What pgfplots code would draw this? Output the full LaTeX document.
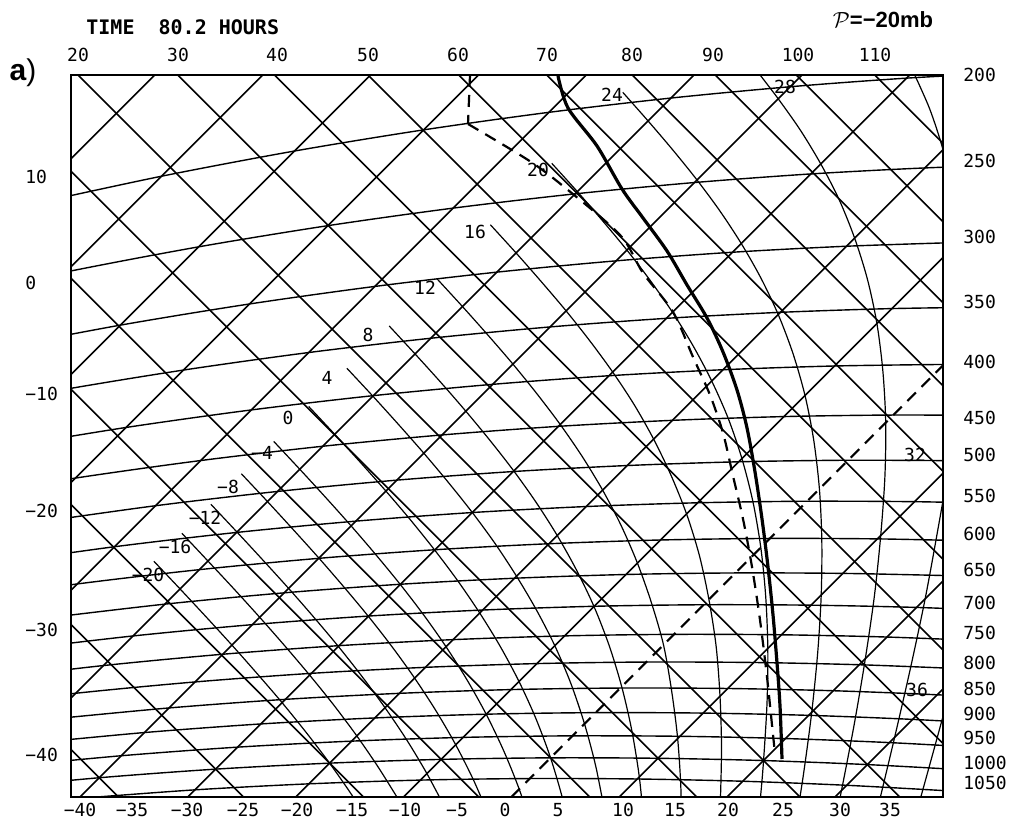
\documentclass[border=0pt]{standalone}
\usepackage{pgfplots}
\pgfplotsset{compat=1.18}
\usepackage{fontspec}
\setmainfont{DejaVu Sans}
\newfontfamily\mono{DejaVu Sans Mono}
\newfontfamily\lsans{Liberation Sans}
\begin{document}
\begin{tikzpicture}
\begin{axis}[
  name=main,
  x=0.5pt, y=0.5pt, scale only axis,
  xmin=0, xmax=872, ymin=0, ymax=722,
  axis line style={line width=1.3pt},
  clip mode=individual,
  major tick length=0pt,
  xtick={9,61,116,172,226,281,334,386,434,487,552,604,657,712,769,819},
  xticklabels={−40,−35,−30,−25,−20,−15,−10,−5,0,5,10,15,20,25,30,35},
  ytick={42,167,286,403,514,620},
  yticklabels={−40,−30,−20,−10,0,10},
  xticklabel style={anchor=north, inner sep=0pt, yshift=-3pt, font=\mono\fontsize{9}{10}\selectfont},
  yticklabel style={anchor=west, inner sep=0pt, xshift=-23pt, font=\mono\fontsize{9}{10}\selectfont},
  iso/.style={black, line width=0.8pt},
  bar/.style={black, line width=0.7pt, smooth},
  moist/.style={black, line width=0.6pt, smooth},
]
% isotherms (rising 45 degree lines), -100 ... 40 C
\addplot[iso] coordinates {(-638.2,0) (83.8,722)};
\addplot[iso] coordinates {(-530.3,0) (191.7,722)};
\addplot[iso] coordinates {(-422.5,0) (299.5,722)};
\addplot[iso] coordinates {(-314.6,0) (407.4,722)};
\addplot[iso] coordinates {(-206.8,0) (515.2,722)};
\addplot[iso] coordinates {(-98.9,0) (623.1,722)};
\addplot[iso] coordinates {(9.0,0) (731.0,722)};
\addplot[iso] coordinates {(116.8,0) (838.8,722)};
\addplot[iso] coordinates {(224.7,0) (946.7,722)};
\addplot[iso] coordinates {(332.5,0) (1054.5,722)};
\addplot[iso] coordinates {(548.3,0) (1270.3,722)};
\addplot[iso] coordinates {(656.1,0) (1378.1,722)};
\addplot[iso] coordinates {(764.0,0) (1486.0,722)};
\addplot[iso] coordinates {(871.8,0) (1593.8,722)};
% dry adiabats (falling 45 degree lines), -40 ... 110 C
\addplot[iso] coordinates {(-674.5,722) (47.5,0)};
\addplot[iso] coordinates {(-549.5,722) (172.5,0)};
\addplot[iso] coordinates {(-429.6,722) (292.4,0)};
\addplot[iso] coordinates {(-314.3,722) (407.7,0)};
\addplot[iso] coordinates {(-203.3,722) (518.7,0)};
\addplot[iso] coordinates {(-96.3,722) (625.7,0)};
\addplot[iso] coordinates {(7.0,722) (729.0,0)};
\addplot[iso] coordinates {(106.8,722) (828.8,0)};
\addplot[iso] coordinates {(203.4,722) (925.4,0)};
\addplot[iso] coordinates {(296.9,722) (1018.9,0)};
\addplot[iso] coordinates {(387.7,722) (1109.7,0)};
\addplot[iso] coordinates {(475.7,722) (1197.7,0)};
\addplot[iso] coordinates {(561.2,722) (1283.2,0)};
\addplot[iso] coordinates {(644.2,722) (1366.2,0)};
\addplot[iso] coordinates {(725.1,722) (1447.1,0)};
\addplot[iso] coordinates {(803.8,722) (1525.8,0)};
% isobars 200 ... 1050 mb
\addplot[bar] coordinates {(-47.1,591.1) (90.45,620.75) (223.45,645.95) (352.5,667.1) (477.85,684.65) (600.05,698.95) (719.25,710.25) (835.65,718.85) (949.55,724.85)};
\addplot[bar] coordinates {(-142.9,495.3) (-5.35,524.95) (127.65,550.15) (256.7,571.3) (382.05,588.85) (504.25,603.15) (623.45,614.45) (739.85,623.05) (853.75,629.05) (965.3,632.8)};
\addplot[bar] coordinates {(-83.65,446.65) (49.35,471.85) (178.4,493.0) (303.75,510.55) (425.95,524.85) (545.15,536.15) (661.55,544.75) (775.45,550.75) (887.0,554.5)};
\addplot[bar] coordinates {(-149.75,380.55) (-16.75,405.75) (112.3,426.9) (237.65,444.45) (359.85,458.75) (479.05,470.05) (595.45,478.65) (709.35,484.65) (820.9,488.4) (930.35,489.95)};
\addplot[bar] coordinates {(-74.15,348.35) (54.9,369.5) (180.25,387.05) (302.45,401.35) (421.65,412.65) (538.05,421.25) (651.95,427.25) (763.5,431.0) (872.95,432.55)};
\addplot[bar] coordinates {(-124.75,297.75) (4.3,318.9) (129.65,336.45) (251.85,350.75) (371.05,362.05) (487.45,370.65) (601.35,376.65) (712.9,380.4) (822.35,381.95) (929.8,381.5)};
\addplot[bar] coordinates {(-40.9,273.7) (84.45,291.25) (206.65,305.55) (325.85,316.85) (442.25,325.45) (556.15,331.45) (667.7,335.2) (777.15,336.75) (884.6,336.3)};
\addplot[bar] coordinates {(-81.9,232.7) (43.45,250.25) (165.65,264.55) (284.85,275.85) (401.25,284.45) (515.15,290.45) (626.7,294.2) (736.15,295.75) (843.6,295.3) (949.15,293.05)};
\addplot[bar] coordinates {(-119.1,195.5) (6.25,213.05) (128.45,227.35) (247.65,238.65) (364.05,247.25) (477.95,253.25) (589.5,257.0) (698.95,258.55) (806.4,258.1) (911.95,255.85)};
\addplot[bar] coordinates {(-28.25,178.55) (93.95,192.85) (213.15,204.15) (329.55,212.75) (443.45,218.75) (555.0,222.5) (664.45,224.05) (771.9,223.6) (877.45,221.35)};
\addplot[bar] coordinates {(-60.05,146.75) (62.15,161.05) (181.35,172.35) (297.75,180.95) (411.65,186.95) (523.2,190.7) (632.65,192.25) (740.1,191.8) (845.65,189.55) (949.5,185.5)};
\addplot[bar] coordinates {(-89.65,117.15) (32.55,131.45) (151.75,142.75) (268.15,151.35) (382.05,157.35) (493.6,161.1) (603.05,162.65) (710.5,162.2) (816.05,159.95) (919.9,155.9)};
\addplot[bar] coordinates {(-117.35,89.45) (4.85,103.75) (124.05,115.05) (240.45,123.65) (354.35,129.65) (465.9,133.4) (575.35,134.95) (682.8,134.5) (788.35,132.25) (892.2,128.2)};
\addplot[bar] coordinates {(-21.15,77.75) (98.05,89.05) (214.45,97.65) (328.35,103.65) (439.9,107.4) (549.35,108.95) (656.8,108.5) (762.35,106.25) (866.2,102.2) (968.4,96.6)};
\addplot[bar] coordinates {(-45.75,53.15) (73.45,64.45) (189.85,73.05) (303.75,79.05) (415.3,82.8) (524.75,84.35) (632.2,83.9) (737.75,81.65) (841.6,77.6) (943.8,72.0)};
\addplot[bar] coordinates {(-68.95,29.95) (50.25,41.25) (166.65,49.85) (280.55,55.85) (392.1,59.6) (501.55,61.15) (609.0,60.7) (714.55,58.45) (818.4,54.4) (920.6,48.8)};
\addplot[bar] coordinates {(-90.95,7.95) (28.25,19.25) (144.65,27.85) (258.55,33.85) (370.1,37.6) (479.55,39.15) (587.0,38.7) (692.55,36.45) (796.4,32.4) (898.6,26.8)};
\addplot[bar] coordinates {(7.55,-1.45) (123.95,7.15) (237.85,13.15) (349.4,16.9) (458.85,18.45) (566.3,18.0) (671.85,15.75) (775.7,11.7) (877.9,6.1)};
% saturated adiabats, theta_w = -20 ... 36 C
\addplot[moist] coordinates {(301.7,-30.8) (280.75,2.15) (258.55,33.85) (235.2,64.5) (211.1,94.3) (186.2,123.3) (160.9,151.9) (135.1,180.1) (109.1,208.0) (82.9,235.7)};
\addplot[moist] coordinates {(328.4,-4.1) (307.7,29.1) (285.8,61.1) (262.7,92.0) (238.65,121.85) (213.9,151.0) (188.7,179.7) (163.0,208.0) (137.0,235.9) (110.9,263.7)};
\addplot[moist] coordinates {(374.6,-11.9) (355.9,23.4) (335.7,57.1) (314.0,89.3) (291.1,120.4) (267.35,150.55) (242.75,179.85) (217.6,208.6) (191.9,236.9) (166.0,264.9) (139.9,292.7)};
\addplot[moist] coordinates {(418.95,-21.45) (402.8,16.3) (384.7,52.2) (364.9,86.3) (343.6,118.9) (321.0,150.3) (297.4,180.6) (272.9,210.0) (247.9,238.9) (222.3,267.3) (196.5,295.4) (170.4,323.2)};
\addplot[moist] coordinates {(461.5,-32.8) (448.2,7.8) (432.7,46.2) (415.2,82.7) (395.9,117.3) (375.0,150.3) (352.7,182.0) (329.3,212.5) (305.0,242.1) (280.1,271.1) (254.6,299.6) (228.8,327.7) (202.75,355.55)};
\addplot[moist] coordinates {(501.7,-46.6) (491.8,-2.5) (479.55,39.15) (464.9,78.4) (448.0,115.5) (429.2,150.6) (408.7,184.0) (386.8,216.1) (363.7,246.9) (339.7,276.8) (314.9,305.9) (289.5,334.5) (263.75,362.65) (237.7,390.5)};
\addplot[moist] coordinates {(533.65,-14.65) (524.8,30.5) (513.5,73.1) (499.9,113.4) (483.8,151.3) (465.5,186.9) (445.5,220.8) (424.1,253.4) (401.3,284.5) (377.4,314.5) (352.8,343.8) (327.5,372.5) (301.9,400.8) (275.9,428.7)};
\addplot[moist] coordinates {(573.15,-29.05) (568.3,20.0) (560.8,66.5) (550.7,110.3) (538.1,151.6) (523.0,190.45) (505.5,226.9) (486.2,261.5) (465.2,294.5) (442.8,326.0) (419.2,356.3) (394.8,385.8) (369.7,414.7) (344.1,443.0) (318.2,471.0)};
\addplot[moist] coordinates {(610.5,-45.6) (609.9,7.7) (606.65,58.35) (600.6,106.3) (592.5,152.1) (580.5,194.0) (566.4,233.9) (550.1,271.5) (531.6,306.9) (511.2,340.5) (489.25,372.45) (466.0,403.1) (441.9,432.9) (416.9,461.9) (391.5,490.4) (365.7,518.5)};
\addplot[moist] coordinates {(649.3,-6.8) (650.5,48.3) (649.0,100.7) (645.1,150.8) (637.9,197.5) (628.3,241.8) (615.55,283.05) (600.1,321.5) (582.6,357.9) (563.1,392.4) (541.7,424.9) (518.9,456.0) (495.1,486.1) (470.3,515.3) (445.1,544.0) (419.4,572.2)};
\addplot[moist] coordinates {(686.8,-23.3) (689.6,1.08) (692.55,36.45) (696.0,93.8) (696.8,148.5) (694.7,200.4) (689.8,249.4) (681.9,295.4) (670.9,338.4) (657.2,378.6) (640.7,416.0) (622.0,451.3) (601.5,484.7) (579.3,516.4) (555.9,546.9) (531.4,576.4) (506.4,605.3) (480.8,633.6)};
\addplot[moist] coordinates {(722.4,-41.6) (732.4,22.3) (740.7,84.6) (746.7,144.5) (750.2,201.9) (750.8,256.5) (748.4,308.0) (742.8,356.3) (734.0,401.5) (722.0,443.4) (707.2,482.5) (689.8,519.1) (670.25,553.45) (648.9,586.0) (626.0,617.0) (601.9,646.9) (577.1,676.0) (551.8,704.6)};
\addplot[moist] coordinates {(756.4,-61.5) (770.45,6.45) (783.3,73.2) (794.3,138.2) (803.4,201.2) (809.7,261.4) (813.85,319.55) (814.7,374.3) (811.9,425.4) (805.9,473.4) (796.4,517.8) (783.6,558.9) (768.1,597.4) (749.8,633.0) (729.5,666.6) (707.2,698.2) (683.8,728.8)};
\addplot[moist] coordinates {(806.7,-11.2) (823.6,59.6) (839.6,129.5) (854.1,198.0) (866.25,264.05) (877.4,329.1) (885.0,390.7) (889.7,449.3) (890.8,504.3) (888.2,555.7) (881.9,603.3) (872.0,647.3) (858.7,688.0) (842.15,725.35)};
\addplot[moist] coordinates {(841.4,-30.4) (862.0,44.1) (882.3,118.3)};
% 0 C isotherm, dashed
\addplot[black, line width=1.1pt, dash pattern=on 6pt off 4pt] coordinates {(440.4,0) (872,431.6)};
% temperature sounding
\addplot[black, line width=1.6pt, smooth] coordinates {(487,721) (497,689) (526,651) (551,608) (572,579) (596,546) (616,512) (636,479) (652,445) (666,407) (676,369) (684,325) (691,278) (697,230) (702,182) (706,134) (709,91) (711,38)};
% dew point
\addplot[black, line width=1.1pt, dash pattern=on 6pt off 4pt] coordinates {(399,722) (397,673)};
\addplot[black, line width=1.1pt, dash pattern=on 6pt off 4pt, smooth] coordinates {(397,673) (457,637) (492,611) (549,562) (572,524) (602,485) (622,440) (639,402) (652,364) (662,321) (672,278) (681,230) (689,177) (696,120) (701,72) (704,43)};
% labels
\begin{scope}[every node/.style={font=\mono\fontsize{9}{10}\selectfont, inner sep=0pt}]
\node at (axis cs:77,222) {−20};
\node at (axis cs:104,250) {−16};
\node at (axis cs:134,279) {−12};
\node at (axis cs:157,310) {−8};
\node at (axis cs:191,344) {−4};
\node at (axis cs:217,379) {0};
\node at (axis cs:256,419) {4};
\node at (axis cs:297,462) {8};
\node at (axis cs:354,509) {12};
\node at (axis cs:404,565) {16};
\node at (axis cs:467,627) {20};
\node at (axis cs:541,702) {24};
\node at (axis cs:714,710) {28};
\node at (axis cs:844,342) {32};
\node at (axis cs:846,107) {36};
\end{scope}
\node[anchor=west, inner sep=0pt, font=\mono\bfseries\fontsize{10}{12}\selectfont] at (axis cs:15,770) {TIME\ \ 80.2 HOURS};
\node[inner sep=0pt, font=\lsans\bfseries\fontsize{15}{16}\selectfont] at (axis cs:-48,724) {a\mdseries)};
\node[inner sep=0pt, font=\lsans\bfseries\fontsize{11}{12}\selectfont] at (axis cs:812,777) {$\mathcal{P}$=−20mb};
\coordinate (BL) at (axis cs:-71,-26);
\coordinate (TR) at (axis cs:946,797);
\end{axis}
\begin{axis}[
  x=0.5pt, y=0.5pt, scale only axis, at={(main.south west)}, anchor=south west,
  xmin=0, xmax=872, ymin=0, ymax=722,
  axis x line*=top, axis y line*=right,
  axis line style={draw=none},
  major tick length=0pt,
  xtick={7,107,206,297,387,476,561,642,727,804},
  xticklabels={20,30,40,50,60,70,80,90,100,110},
  ytick={722,636,560,495,435,379,342,301,263,227,194,164,134,108,83,59,34,14},
  yticklabels={200,250,300,350,400,450,500,550,600,650,700,750,800,850,900,950,1000,1050},
  xticklabel style={anchor=south, inner sep=0pt, yshift=6.5pt, font=\mono\fontsize{9}{10}\selectfont},
  yticklabel style={anchor=west, inner sep=0pt, xshift=10pt, font=\mono\fontsize{9}{10}\selectfont},
]
\addplot[draw=none] coordinates {(0,0) (872,722)};
\end{axis}
\pgfresetboundingbox
\useasboundingbox (BL) rectangle (TR);
\end{tikzpicture}
\end{document}
